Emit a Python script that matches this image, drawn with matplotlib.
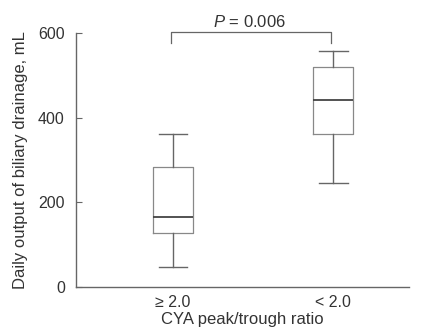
import matplotlib
matplotlib.use('Agg')
import matplotlib.pyplot as plt

plt.rcParams['font.family'] = ['Liberation Sans', 'DejaVu Sans']
plt.rcParams['mathtext.fontset'] = 'custom'
plt.rcParams['mathtext.it'] = 'Liberation Sans:italic'
plt.rcParams['mathtext.rm'] = 'Liberation Sans'

# box stats (mL)
groups = ['\u2265 2.0', '< 2.0']
whislo = [47, 246]
q1 = [128, 362]
med = [165, 442]
q3 = [284, 520]
whishi = [362, 558]
p_text = '$P$ = 0.006'

stats = []
for i in range(len(groups)):
	stats.append({'whislo': whislo[i], 'q1': q1[i], 'med': med[i], 'q3': q3[i],
				  'whishi': whishi[i], 'label': groups[i]})

fig = plt.figure(figsize=(4.24, 3.29), dpi=100)
ax = fig.add_axes([0.179, 0.128, 0.786, 0.772])

line_c = '#666666'
box_c = '#888888'
txt_c = '#333333'

ax.bxp(stats, positions=[1, 2], widths=0.25, showfliers=False,
	   boxprops=dict(color=box_c, linewidth=0.9),
	   whiskerprops=dict(color=line_c, linewidth=1.0),
	   capprops=dict(color=line_c, linewidth=1.0),
	   medianprops=dict(color='#444444', linewidth=1.3),
	   capwidths=0.18)

ax.set_xlim(0.394, 2.475)
ax.set_ylim(0, 600)
ax.set_yticks([0, 200, 400, 600])
ax.spines['top'].set_visible(False)
ax.spines['right'].set_visible(False)
for s in ['left', 'bottom']:
	ax.spines[s].set_color(line_c)
	ax.spines[s].set_linewidth(1.0)
ax.tick_params(axis='y', direction='in', length=4, color=line_c, labelsize=11.5, labelcolor=txt_c, pad=8)
ax.tick_params(axis='x', length=0, labelsize=11.5, labelcolor=txt_c, pad=6)

ax.set_ylabel('Daily output of biliary drainage, mL', fontsize=12, color=txt_c, labelpad=7)
ax.set_xlabel('CYA peak/trough ratio', fontsize=12, color=txt_c, labelpad=1)

# significance bracket
yb = 602
ax.plot([0.99, 0.99, 1.99, 1.99], [575, yb, yb, 575], color=line_c, linewidth=0.9, clip_on=False)
ax.text(1.48, yb + 5, p_text, ha='center', va='bottom', fontsize=12, color=txt_c)

fig.savefig('out.png', dpi=100)
